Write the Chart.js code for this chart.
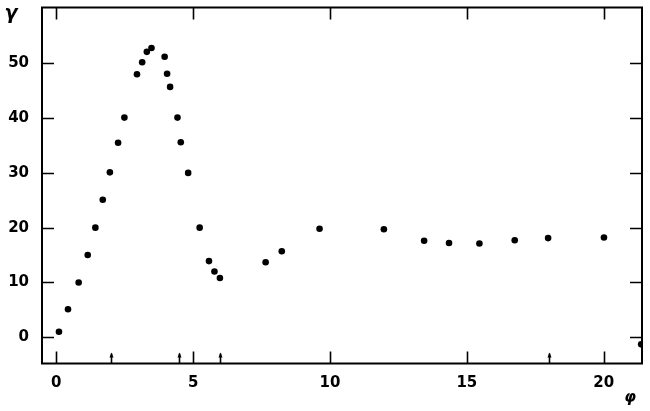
<!DOCTYPE html>
<html>
<head>
<meta charset="utf-8">
<script src="https://cdn.jsdelivr.net/npm/chart.js@4/dist/chart.umd.min.js"></script>
<style>
  body { margin: 0; background: #fff; }
  #wrap { width: 650px; height: 411px; }
</style>
</head>
<body>
<div id="wrap"><canvas id="chart1" width="650" height="411"></canvas></div>
<script>
// gamma against phi
const phi = [0.1, 0.43, 0.82, 1.15, 1.43, 1.70, 1.96, 2.26, 2.49, 2.95, 3.14, 3.31, 3.48,
             3.96, 4.05, 4.16, 4.43, 4.55, 4.82, 5.24, 5.58, 5.78, 5.98, 7.65, 8.24,
             9.62, 11.97, 13.44, 14.35, 15.46, 16.75, 17.97, 20.01, 21.37];
const gamma = [1.0, 5.1, 10.0, 15.0, 20.0, 25.1, 30.1, 35.5, 40.1, 48.0, 50.2, 52.1, 52.8,
               51.2, 48.1, 45.7, 40.1, 35.6, 30.0, 20.0, 13.9, 12.0, 10.8, 13.7, 15.7,
               19.8, 19.7, 17.6, 17.2, 17.1, 17.7, 18.1, 18.2, -1.3];
const xTicks = [0, 5, 10, 15, 20];
const yTicks = [0, 10, 20, 30, 40, 50];
const arrowMarks = [2, 4.5, 6, 18];

const points = phi.map((p, i) => ({ x: p, y: gamma[i] }));

// inward ticks, frame, arrow marks and axis symbols
const framePlugin = {
    id: 'frame',
    afterDraw(chart) {
        const ctx = chart.ctx;
        const a = chart.chartArea;
        const xs = chart.scales.x, ys = chart.scales.y;
        ctx.save();
        ctx.strokeStyle = '#000';
        ctx.lineWidth = 2;
        ctx.strokeRect(a.left, a.top, a.right - a.left, a.bottom - a.top);

        ctx.lineWidth = 1.6;
        ctx.beginPath();
        xTicks.forEach(v => {
            const px = Math.round(xs.getPixelForValue(v)) + 0.5;
            ctx.moveTo(px, a.bottom); ctx.lineTo(px, a.bottom - 12);
            ctx.moveTo(px, a.top); ctx.lineTo(px, a.top + 12);
        });
        yTicks.forEach(v => {
            const py = Math.round(ys.getPixelForValue(v)) + 0.5;
            ctx.moveTo(a.left, py); ctx.lineTo(a.left + 12, py);
            ctx.moveTo(a.right, py); ctx.lineTo(a.right - 12, py);
        });
        ctx.stroke();

        // small upward arrows on the phi axis
        ctx.fillStyle = '#000';
        arrowMarks.forEach(v => {
            const px = Math.round(xs.getPixelForValue(v)) + 0.5;
            ctx.beginPath();
            ctx.moveTo(px, a.bottom); ctx.lineTo(px, a.bottom - 10);
            ctx.stroke();
            ctx.beginPath();
            ctx.moveTo(px, a.bottom - 11);
            ctx.lineTo(px - 2, a.bottom - 6);
            ctx.lineTo(px + 2, a.bottom - 6);
            ctx.closePath();
            ctx.fill();
        });

        ctx.font = 'bold italic 19px "DejaVu Sans", sans-serif';
        ctx.textAlign = 'center';
        ctx.textBaseline = 'middle';
        ctx.fillText('γ', 11, 14);
        ctx.font = 'bold italic 15px "DejaVu Sans", sans-serif';
        ctx.fillText('φ', 630, 398);
        ctx.restore();
    }
};

const tickFont = { family: '"DejaVu Sans", sans-serif', size: 15, weight: 'bold' };

new Chart(document.getElementById('chart1'), {
    type: 'scatter',
    data: {
        datasets: [{
            data: points,
            backgroundColor: '#000',
            borderColor: '#000',
            pointRadius: 3.3,
            pointHoverRadius: 3.3,
            borderWidth: 0
        }]
    },
    options: {
        responsive: false,
        animation: false,
        layout: { padding: { top: 7.5, right: 8, left: 0, bottom: 0 } },
        plugins: { legend: { display: false }, tooltip: { enabled: false } },
        scales: {
            x: {
                type: 'linear',
                min: -0.52,
                max: 21.4,
                afterBuildTicks(s) { s.ticks = xTicks.map(v => ({ value: v })); },
                afterFit(s) {
                    s.height = 47.5;
                    s.paddingLeft = 0; s.paddingRight = 0;
                },
                grid: { display: false, drawTicks: false },
                border: { display: false },
                ticks: { padding: 11, color: '#000', font: tickFont }
            },
            y: {
                type: 'linear',
                min: -4.8,
                max: 60.2,
                afterBuildTicks(s) { s.ticks = yTicks.map(v => ({ value: v })); },
                afterFit(s) {
                    s.width = 42;
                    s.paddingTop = 0; s.paddingBottom = 0;
                },
                grid: { display: false, drawTicks: false },
                border: { display: false },
                ticks: { padding: 13, color: '#000', font: tickFont }
            }
        }
    },
    plugins: [framePlugin]
});
</script>
</body>
</html>
